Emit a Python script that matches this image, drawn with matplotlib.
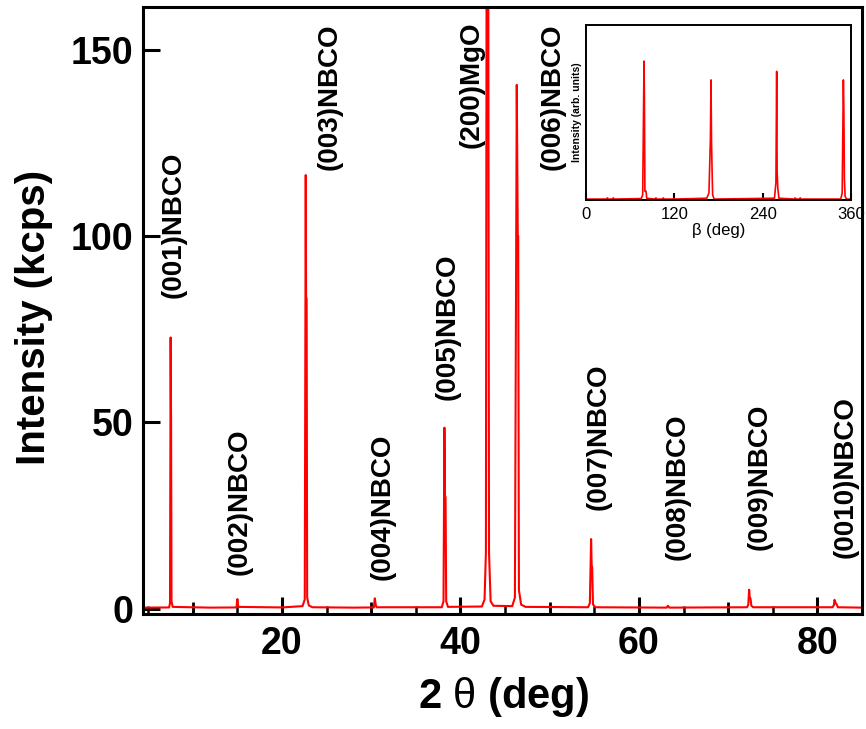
"""
XRD theta-2theta scan of an NBCO film on MgO, with beta-scan inset.
"""

import matplotlib
matplotlib.use("Agg")
import matplotlib.pyplot as plt
from matplotlib.ticker import MultipleLocator, FixedLocator, NullFormatter

plt.rcParams.update({
    "font.family": "Liberation Sans",
    "font.weight": "bold",
    "mathtext.fontset": "custom",
    "mathtext.rm": "Liberation Sans:weight=normal",
    "mathtext.it": "Liberation Sans:italic",
    "mathtext.bf": "Liberation Sans:bold",
})

# --- main scan: 2theta (deg) vs intensity (kcps) ---
two_theta = [4.6, 7.35, 7.45, 7.52, 7.57, 7.62, 7.75,
             12.0, 14.9, 15.0, 15.1,
             20.0, 22.3, 22.55, 22.66, 22.70, 22.76, 22.82, 23.0, 23.4,
             28.0, 30.3, 30.4, 30.5, 30.6,
             37.9, 38.1, 38.2, 38.27, 38.33, 38.4, 38.6,
             42.4, 42.7, 42.85, 42.94, 43.1, 43.2, 43.38, 43.7,
             45.8, 46.1, 46.31, 46.42, 46.47, 46.55, 46.8, 47.3,
             54.3, 54.5, 54.64, 54.70, 54.76, 54.85, 55.1,
             63.1, 63.25, 63.4,
             72.1, 72.25, 72.35, 72.42, 72.5, 72.6, 72.8,
             81.7, 81.85, 81.92, 82.05, 82.15, 82.3, 85.0]
kcps = [0.3, 0.35, 1.5, 72.8, 50.0, 2.0, 0.5,
        0.3, 0.35, 2.6, 0.5,
        0.35, 0.7, 2.5, 116.4, 83.8, 83.0, 3.0, 0.9, 0.4,
        0.3, 0.35, 2.8, 1.1, 0.4,
        0.4, 2.0, 48.6, 30.0, 30.0, 2.0, 0.5,
        0.6, 2.5, 15.0, 200.0, 200.0, 15.0, 2.0, 0.8,
        0.7, 3.0, 140.6, 100.0, 100.0, 5.0, 1.1, 0.5,
        0.4, 1.5, 18.7, 11.8, 11.0, 1.2, 0.4,
        0.3, 0.8, 0.3,
        0.4, 1.0, 5.1, 3.0, 2.8, 0.8, 0.4,
        0.4, 1.0, 2.4, 1.5, 1.2, 0.4, 0.3]

# peak labels and where they sit (x centre, bottom of text)
peak_labels = ["(001)NBCO", "(002)NBCO", "(003)NBCO", "(004)NBCO", "(005)NBCO",
               "(200)MgO", "(006)NBCO", "(007)NBCO", "(008)NBCO", "(009)NBCO",
               "(0010)NBCO"]
label_x = [7.9, 15.3, 25.3, 31.3, 38.6, 41.3, 50.3, 55.5, 64.3, 73.5, 83.2]
label_y = [83.4, 9.1, 117.8, 7.8, 56.0, 123.7, 117.8, 26.6, 13.1, 15.8, 13.7]

# --- inset: beta scan (arb. units) ---
beta = [0, 28, 29, 30, 36, 37, 38, 75, 77, 78.8, 79.3, 80, 81.5, 82.5,
        94, 95, 96, 104, 105, 106, 118, 119, 120,
        164, 167, 169, 169.8, 170.5, 171.3, 172, 174,
        256, 258, 259, 259.6, 260.5, 262,
        283, 284, 285, 290, 291, 292,
        346, 348, 349.6, 350.3, 351, 352, 354, 360]
beta_int = [0.005, 0.005, 0.012, 0.005, 0.005, 0.012, 0.005, 0.008, 0.03, 0.794, 0.59, 0.05, 0.05, 0.01,
            0.005, 0.012, 0.005, 0.005, 0.012, 0.005, 0.005, 0.01, 0.005,
            0.01, 0.04, 0.35, 0.686, 0.33, 0.16, 0.03, 0.005,
            0.01, 0.1, 0.735, 0.17, 0.07, 0.01,
            0.005, 0.012, 0.005, 0.005, 0.012, 0.005,
            0.005, 0.04, 0.686, 0.51, 0.12, 0.02, 0.005, 0.005]

fig = plt.figure(figsize=(8.66, 7.29), dpi=100)
ax = fig.add_axes([0.1651, 0.1578, 0.8303, 0.8326])

ax.plot(two_theta, kcps, color="red", linewidth=1.5)

ax.set_xlim(4.42, 85.0)
ax.set_ylim(-1.4, 161.5)

for s in ax.spines.values():
    s.set_linewidth(2.2)

ax.xaxis.set_major_locator(FixedLocator([20, 40, 60, 80]))
ax.xaxis.set_minor_locator(MultipleLocator(5))
ax.yaxis.set_major_locator(FixedLocator([0, 50, 100, 150]))
ax.tick_params(axis="both", which="major", direction="in", length=12, width=2.2,
               labelsize=27, top=False, right=False)
ax.tick_params(axis="x", which="major", pad=9)
ax.tick_params(axis="y", which="major", pad=7)
ax.tick_params(axis="x", which="minor", direction="in", length=6, width=1.8)

# middle-length ticks at 10, 30, 50, 70
sec = ax.secondary_xaxis("bottom")
sec.xaxis.set_major_locator(FixedLocator([10, 30, 50, 70]))
sec.xaxis.set_major_formatter(NullFormatter())
sec.tick_params(direction="in", length=9, width=2.0)
sec.spines["bottom"].set_visible(False)

ax.set_xlabel(r"2 $\mathrm{\theta}$ (deg)", fontsize=30, fontweight="bold")
ax.set_ylabel("Intensity (kcps)", fontsize=29, fontweight="bold")
ax.xaxis.set_label_coords(0.502, -0.100)
ax.yaxis.set_label_coords(-0.125, 0.488)

for txt, x, y in zip(peak_labels, label_x, label_y):
    ax.text(x, y, txt, rotation=90, ha="center", va="bottom",
            fontsize=20, fontweight="bold")

# --- INSET ---
ins = fig.add_axes([0.6767, 0.7257, 0.306, 0.24])
ins.plot(beta, beta_int, color="red", linewidth=1.2)
ins.set_xlim(0, 360)
ins.set_ylim(0, 1.0)
for s in ins.spines.values():
    s.set_linewidth(1.4)
ins.set_xticks([0, 120, 240, 360])
ins.set_yticks([])
ins.tick_params(axis="x", direction="in", length=5, width=1.5, labelsize=12, pad=5)
for lab in ins.get_xticklabels():
    lab.set_fontweight("normal")
ins.set_xlabel("\u03b2 (deg)", fontsize=12, fontweight="normal", labelpad=1)
ins.set_ylabel("Intensity (arb. units)", fontsize=7.5, fontweight="bold", labelpad=3)

fig.savefig("out.png", dpi=100)
